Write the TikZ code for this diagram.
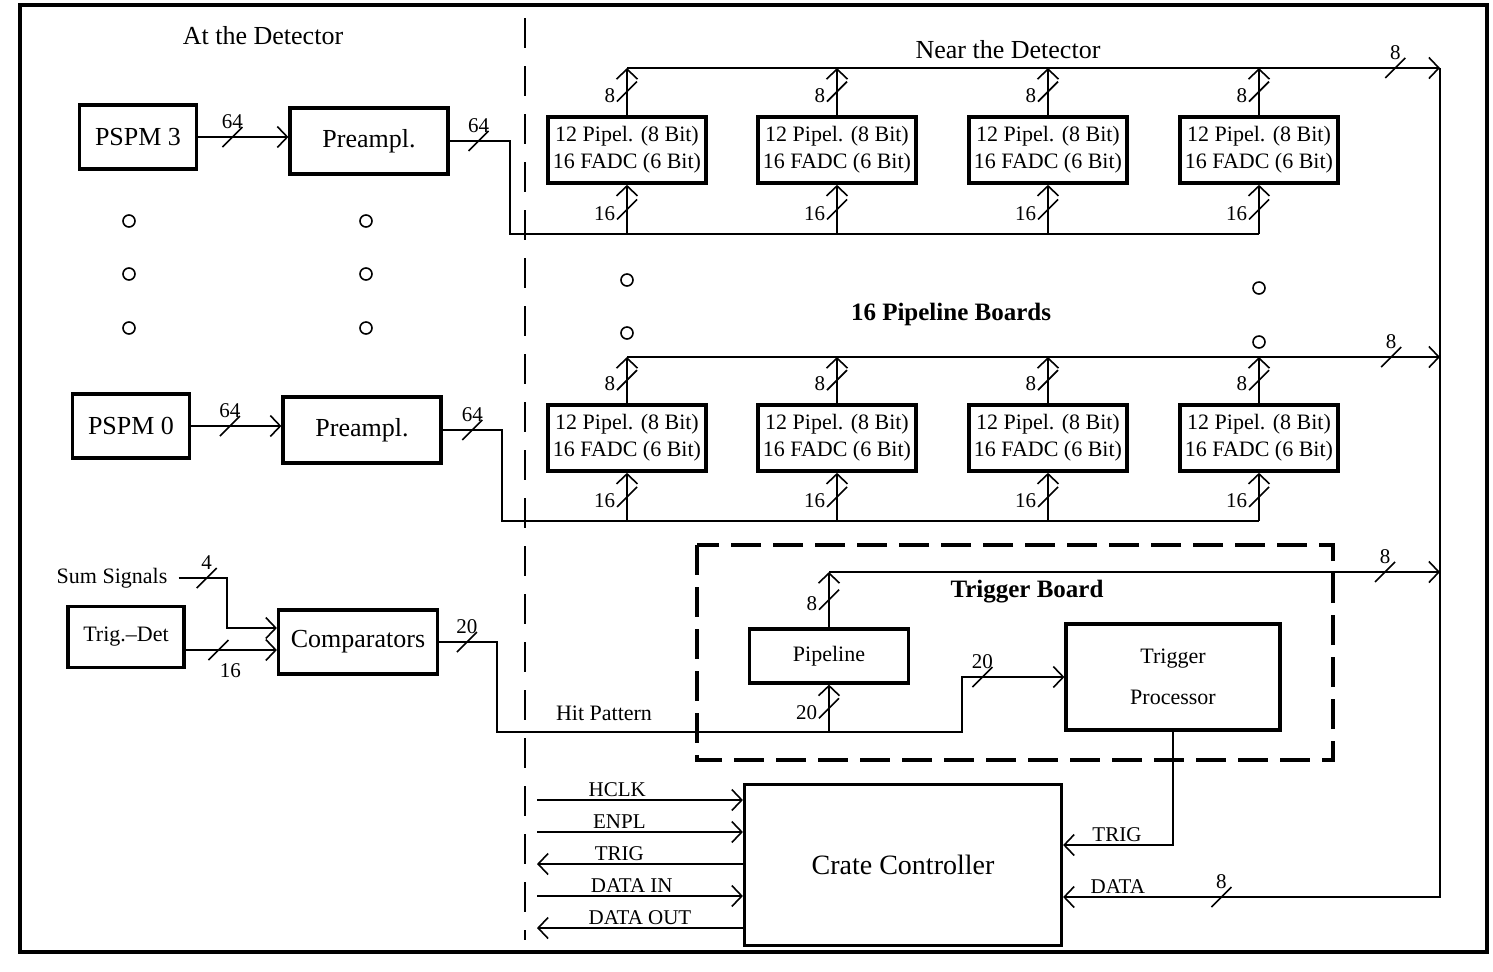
\documentclass[tikz,border=0pt]{standalone}
\usepackage{fontspec}
\setmainfont{Liberation Serif}
\usetikzlibrary{arrows.meta,positioning,calc}
\tikzset{
  box/.style={draw,line width=1.6pt,align=center,inner sep=2pt,font=\fontsize{13}{15}\selectfont},
  board/.style={box,line width=1.8pt,minimum width=79pt,minimum height=33pt,inner sep=1pt,font=\fontsize{11}{13.5}\selectfont},
  sig/.style={line width=0.8pt},
  lbl/.style={font=\fontsize{10.5}{12}\selectfont,inner sep=1.5pt},
  num/.style={font=\fontsize{10.5}{11}\selectfont,inner sep=0.5pt},
  head/.style={font=\fontsize{13}{15}\selectfont},
  bhead/.style={font=\fontsize{12.5}{15}\selectfont\bfseries},
  sepline/.style={line width=1.4pt,dash pattern=on 15pt off 9pt},
  boardline/.style={line width=1.6pt,dash pattern=on 15pt off 6pt},
  pics/bwh/.style={code={\draw[sig,-] (-5pt,-5pt) -- (5pt,5pt); \node[num,anchor=south] at (0,3.5pt) {#1};}},
  pics/bwv/.style={code={\draw[sig,-] (-5pt,-5pt) -- (5pt,5pt); \node[num,anchor=east] at (-5pt,-2pt) {#1};}},
  pics/bwb/.style={code={\draw[sig,-] (-5pt,-5pt) -- (5pt,5pt); \node[num,anchor=north] at (6pt,-6pt) {#1};}},
}
\begin{document}
\begin{tikzpicture}[x=0.5pt,y=0.5pt,>={Straight Barb[length=5pt,width=10.5pt]}]
  \useasboundingbox (0,0) rectangle (1493,-971);
  \draw[line width=2.4pt] (20,-5) rectangle (1487,-952);
  \draw[sepline] (525,-18) -- (525,-940);
  % at the detector
  \node[head] (atdet) at (263,-36) {At the Detector};
  \node[box,minimum width=58.5pt,minimum height=32pt] (pspm3) at (138,-137) {PSPM 3};
  \node[box,minimum width=79pt,minimum height=33pt] (pre3) at (369,-141) {Preampl.};
  \node[box,minimum width=58.5pt,minimum height=32pt] (pspm0) at (131,-426) {PSPM 0};
  \node[box,minimum width=79pt,minimum height=33pt] (pre0) at (362,-430) {Preampl.};
  \node[lbl,font=\fontsize{11}{13}\selectfont] (sum) at (112,-578) {Sum Signals};
  \node[box,font=\fontsize{11}{13}\selectfont,minimum width=58pt,minimum height=30.5pt] (tdet) at (126,-637) {Trig.--Det};
  \node[box,minimum width=79.5pt,minimum height=32pt] (cmp) at (358,-642) {Comparators};
  \foreach \x in {129,366} {
    \foreach \y in {-221,-274,-328} \draw[sig] (\x,\y) circle (3pt);
  }
  % near the detector
  \node[head] (neardet) at (1008,-50) {Near the Detector};
  \node[board] (pa1) at (627,-150) {12 Pipel. (8 Bit)\\16 FADC (6 Bit)};
  \node[board] (pa2) at (837,-150) {12 Pipel. (8 Bit)\\16 FADC (6 Bit)};
  \node[board] (pa3) at (1048,-150) {12 Pipel. (8 Bit)\\16 FADC (6 Bit)};
  \node[board] (pa4) at (1259,-150) {12 Pipel. (8 Bit)\\16 FADC (6 Bit)};
  \node[board] (pb1) at (627,-438) {12 Pipel. (8 Bit)\\16 FADC (6 Bit)};
  \node[board] (pb2) at (837,-438) {12 Pipel. (8 Bit)\\16 FADC (6 Bit)};
  \node[board] (pb3) at (1048,-438) {12 Pipel. (8 Bit)\\16 FADC (6 Bit)};
  \node[board] (pb4) at (1259,-438) {12 Pipel. (8 Bit)\\16 FADC (6 Bit)};
  \node[bhead] (nboards) at (951,-314) {16 Pipeline Boards};
  \foreach \x/\y in {627/-280,627/-333,1259/-288,1259/-342} \draw[sig] (\x,\y) circle (3pt);
  % trigger board
  \draw[boardline] (697,-545) rectangle (1333,-760);
  \node[bhead] (tboard) at (1027,-592) {Trigger Board};
  \node[box,font=\fontsize{11}{13}\selectfont,minimum width=79.5pt,minimum height=27pt] (pl) at (829,-656) {Pipeline};
  \node[box,font=\fontsize{11}{20.5}\selectfont,minimum width=107pt,minimum height=53pt] (tp) at (1173,-677) {Trigger\\Processor};
  \node[lbl,font=\fontsize{11}{13}\selectfont] (hitlbl) at (604,-713) {Hit Pattern};
  \node[box,font=\fontsize{14}{16}\selectfont,minimum width=158.5pt,minimum height=80.5pt] (cc) at (903,-865) {Crate Controller};
  % bus points
  \coordinate (ina) at (510,-234);
  \coordinate (inb) at (502,-521);
  \coordinate (hit) at (497,-732);
  \coordinate (turn) at (962,-677);
  \coordinate (outa) at (1440,-68);
  \coordinate (outb) at (1440,-357);
  \coordinate (outc) at (1440,-572);
  \coordinate (outd) at (1440,-897);
  \coordinate (trg) at (1172,-845);
  \coordinate (sumk) at (227,-578);
  % left side
  \draw[sig,->] (pspm3.east) -- pic[pos=.38]{bwh=64} (pspm3.east -| pre3.west);
  \draw[sig,->] (pspm0.east) -- pic[pos=.43]{bwh=64} (pspm0.east -| pre0.west);
  \draw[sig] (pre3.east) -- pic[pos=.48]{bwh=64} (pre3.east -| ina) -- (ina) -- (pa4.south |- ina);
  \draw[sig] (pre0.east) -- pic[pos=.5]{bwh=64} (pre0.east -| inb) -- (inb) -- (pb4.south |- inb);
  \draw[sig,->] ([xshift=4pt]sum.east) -- pic[pos=.58]{bwh=4} (sumk) |- ([yshift=7pt]cmp.west);
  \draw[sig,->] ([yshift=-6.5pt]tdet.east) -- pic[pos=.36]{bwb=16} ([yshift=-4pt]cmp.west);
  \draw[sig,->] (cmp.east) -- pic[pos=.48]{bwh=20} (cmp.east -| hit) -- (hit) -| (turn) -- pic[pos=.2]{bwh=20} (tp.west);
  \draw[sig,->] (pl.south |- hit) -- pic[pos=.5]{bwv=20} (pl.south);
  % board inputs
  \draw[sig,->] (pa1.south |- ina) -- pic[pos=.5]{bwv=16} (pa1.south);
  \draw[sig,->] (pa2.south |- ina) -- pic[pos=.5]{bwv=16} (pa2.south);
  \draw[sig,->] (pa3.south |- ina) -- pic[pos=.5]{bwv=16} (pa3.south);
  \draw[sig,->] (pa4.south |- ina) -- pic[pos=.5]{bwv=16} (pa4.south);
  \draw[sig,->] (pb1.south |- inb) -- pic[pos=.5]{bwv=16} (pb1.south);
  \draw[sig,->] (pb2.south |- inb) -- pic[pos=.5]{bwv=16} (pb2.south);
  \draw[sig,->] (pb3.south |- inb) -- pic[pos=.5]{bwv=16} (pb3.south);
  \draw[sig,->] (pb4.south |- inb) -- pic[pos=.5]{bwv=16} (pb4.south);
  % board outputs
  \draw[sig,->] (pa1.north) -- pic[pos=.5]{bwv=8} (pa1.north |- outa);
  \draw[sig,->] (pa2.north) -- pic[pos=.5]{bwv=8} (pa2.north |- outa);
  \draw[sig,->] (pa3.north) -- pic[pos=.5]{bwv=8} (pa3.north |- outa);
  \draw[sig,->] (pa4.north) -- pic[pos=.5]{bwv=8} (pa4.north |- outa);
  \draw[sig,->] (pb1.north) -- pic[pos=.5]{bwv=8} (pb1.north |- outb);
  \draw[sig,->] (pb2.north) -- pic[pos=.5]{bwv=8} (pb2.north |- outb);
  \draw[sig,->] (pb3.north) -- pic[pos=.5]{bwv=8} (pb3.north |- outb);
  \draw[sig,->] (pb4.north) -- pic[pos=.5]{bwv=8} (pb4.north |- outb);
  \draw[sig,->] (pl.north) -- pic[pos=.5]{bwv=8} (pl.north |- outc);
  \draw[sig,->] (pa1.north |- outa) -- pic[pos=.945]{bwh=8} (outa);
  \draw[sig,->] (pb1.north |- outb) -- pic[pos=.94]{bwh=8} (outb);
  \draw[sig,->] (pl.north |- outc) -- pic[pos=.91]{bwh=8} (outc);
  \draw[sig,->] (outa) -- (outd) -- pic[pos=.58]{bwh=8} node[lbl,above,pos=.855]{DATA} (cc.east |- outd);
  \draw[sig,->] (tp.south) |- node[lbl,above,pos=.755]{TRIG} (cc.east |- trg);
  % crate controller lines
  \coordinate (hclk) at (537,-800);
  \coordinate (enpl) at (537,-832);
  \coordinate (trgo) at (537,-864);
  \coordinate (din) at (537,-896);
  \coordinate (dout) at (537,-928);
  \draw[sig,->] (hclk) -- node[lbl,above,pos=.39]{HCLK} (hclk -| cc.west);
  \draw[sig,->] (enpl) -- node[lbl,above,pos=.40]{ENPL} (enpl -| cc.west);
  \draw[sig,<-] (trgo) -- node[lbl,above,pos=.40]{TRIG} (trgo -| cc.west);
  \draw[sig,->] (din) -- node[lbl,above,pos=.46]{DATA IN} (din -| cc.west);
  \draw[sig,<-] (dout) -- node[lbl,above,pos=.50]{DATA OUT} (dout -| cc.west);
\end{tikzpicture}
\end{document}
